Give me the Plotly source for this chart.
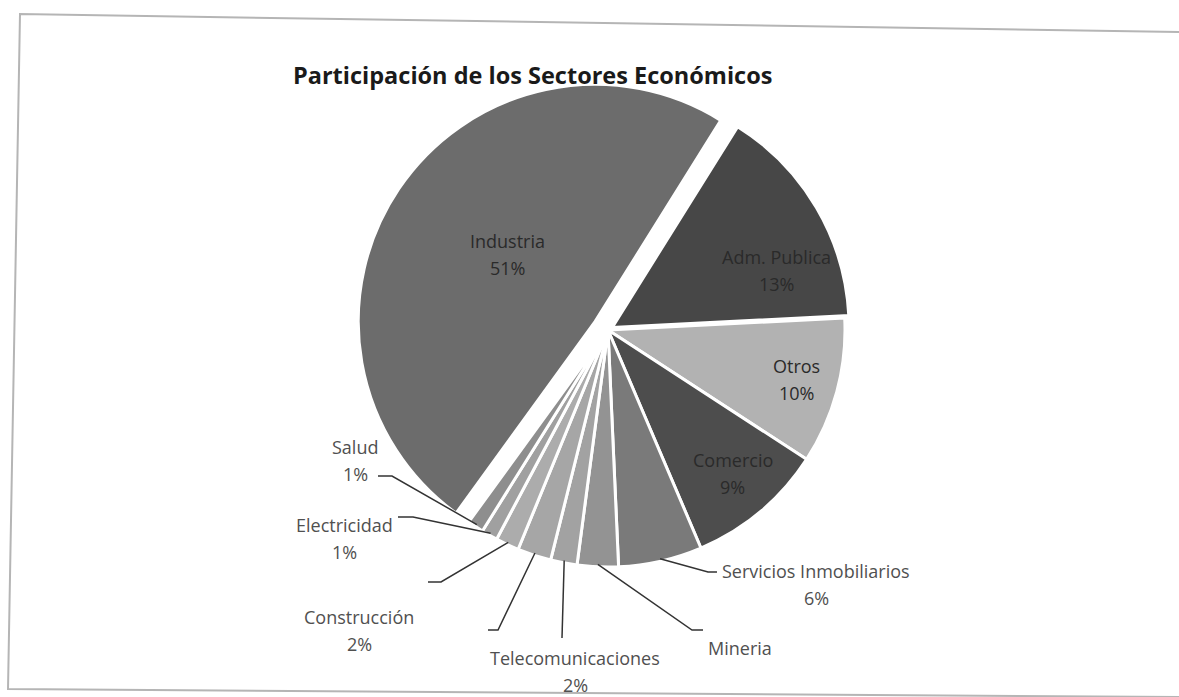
import math
import plotly.graph_objects as go

# ---------------- data ----------------
sectors = ["Adm. Publica", "Otros", "Comercio", "Servicios Inmobiliarios", "Mineria",
           "Telecomunicaciones", "(sin etiqueta)", "Construcción", "Electricidad", "Salud", "Industria"]
shares = [15.3, 10.0, 9.4, 5.7, 2.8, 1.8, 2.3, 1.6, 1.1, 1.1, 48.9]
pct_labels = ["13%", "10%", "9%", "6%", "", "2%", "", "2%", "1%", "1%", "51%"]
name_labels = ["Adm. Publica", "Otros", "Comercio", "Servicios Inmobiliarios", "Mineria",
               "Telecomunicaciones", "", "Construcción", "Electricidad", "Salud", "Industria"]
title_text = "Participación de los Sectores Económicos"

# ---------------- styling / layout ----------------
W, H = 1179, 697
CX, CY, R = 608, 330, 237
ROT = 32
pulls = [0.02, 0, 0, 0, 0, 0, 0, 0, 0, 0, 0.065]
colors = ["#474747", "#b2b2b2", "#4d4d4d", "#7a7a7a", "#939393", "#a2a2a2",
          "#a6a6a6", "#acacac", "#a0a0a0", "#8e8e8e", "#6c6c6c"]
FONT = "Open Sans"
LBL = 18

maxpull = max(pulls)
half = R * (1 + maxpull)


def px(x):
    return x / W


def py(y):
    return 1 - y / H


fig = go.Figure(go.Pie(
    labels=sectors, values=shares, sort=False, direction="clockwise", rotation=ROT,
    pull=pulls, textinfo="none", hoverinfo="skip", showlegend=False,
    marker=dict(colors=colors, line=dict(color="white", width=3)),
    domain=dict(x=[px(CX - half), px(CX + half)], y=[py(CY + half), py(CY - half)]),
))

# label placement (pixel positions of name line; pct line below), leader elbows
label_pos = {
    "Industria": (507, 241, "inside"),
    "Adm. Publica": (777, 257, "inside"),
    "Otros": (796, 366, "inside"),
    "Comercio": (733, 460, "inside"),
    "Servicios Inmobiliarios": (816, 571, "out"),
    "Mineria": (740, 648, "out"),
    "Telecomunicaciones": (575, 658, "out"),
    "Construcción": (359, 617, "out"),
    "Electricidad": (344, 525, "out"),
    "Salud": (355, 447, "out"),
}
leader_elbows = {
    "Servicios Inmobiliarios": [(717, 572), (708, 572)],
    "Mineria": [(703, 630), (692, 630)],
    "Telecomunicaciones": [(562, 638), (562, 638)],
    "(sin etiqueta)": [(488, 630), (498, 630)],
    "Construcción": [(428, 582), (441, 582)],
    "Electricidad": [(398, 517), (413, 517)],
    "Salud": [(378, 476), (392, 476)],
}

total = sum(shares)
mids = {}
acc = 0.0
for s, v in zip(sectors, shares):
    a0 = ROT + 360 * acc / total
    acc += v
    a1 = ROT + 360 * acc / total
    mids[s] = (a0 + a1) / 2

annotations = [dict(text=f"<b>{title_text}</b>", x=px(532), y=py(75), xref="paper", yref="paper",
                    xanchor="center", yanchor="middle", showarrow=False,
                    font=dict(family=FONT, size=23.5, color="#1a1a1a"))]
for s, nm, pc in zip(sectors, name_labels, pct_labels):
    if s not in label_pos:
        continue
    x, y, kind = label_pos[s]
    col = "#2a2a2a" if kind == "inside" else "#505050"
    annotations.append(dict(text=nm, x=px(x), y=py(y), xref="paper", yref="paper",
                            xanchor="center", yanchor="middle", showarrow=False,
                            font=dict(family=FONT, size=LBL, color=col)))
    if pc:
        annotations.append(dict(text=pc, x=px(x), y=py(y + 27), xref="paper", yref="paper",
                                xanchor="center", yanchor="middle", showarrow=False,
                                font=dict(family=FONT, size=LBL, color=col)))

shapes = []
for s, pts in leader_elbows.items():
    ang = math.radians(mids[s])
    rx = CX + R * 0.99 * math.sin(ang)
    ry = CY - R * 0.99 * math.cos(ang)
    p = [pts[0], pts[1], (rx, ry)]
    path = "M " + " L ".join(f"{px(a):.5f},{py(b):.5f}" for a, b in p)
    shapes.append(dict(type="path", path=path, xref="paper", yref="paper",
                       line=dict(color="#333333", width=1.5)))

# scanned page frame
frame = [(1179, 32), (20, 14), (8, 689), (1179, 697)]
shapes.append(dict(type="path", xref="paper", yref="paper",
                   path="M " + " L ".join(f"{px(a):.5f},{py(b):.5f}" for a, b in frame),
                   line=dict(color="#b5b5b5", width=2)))

fig.update_layout(
    width=W, height=H, margin=dict(l=0, r=0, t=0, b=0),
    paper_bgcolor="white", plot_bgcolor="white",
    annotations=annotations, shapes=shapes,
)
fig.write_html("out.html", config={"displayModeBar": False},
               post_script="document.body.style.margin='0';document.body.style.overflow='hidden';")
